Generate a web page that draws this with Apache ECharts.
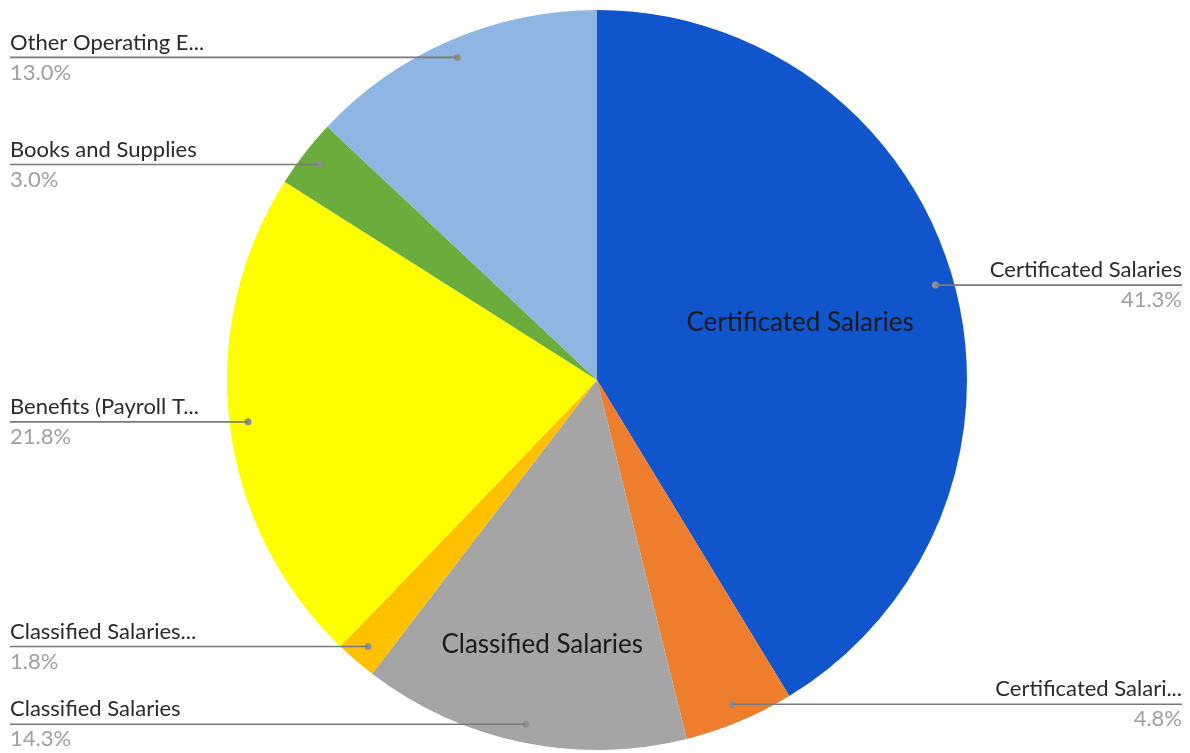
<!DOCTYPE html>
<html><head><meta charset="utf-8">
<script src="https://cdn.jsdelivr.net/npm/echarts@6/dist/echarts.min.js"></script>
<style>html,body{margin:0;padding:0;background:#fff}#c{width:1190px;height:753px}</style>
</head><body><div id="c"></div>
<script>
const categories = ['Certificated Salaries', 'Certificated Salari...', 'Classified Salaries', 'Classified Salaries...', 'Benefits (Payroll T...', 'Books and Supplies', 'Other Operating E...'];
const values = [41.3, 4.8, 14.3, 1.8, 21.8, 3.0, 13.0];
const colors = ['#1155CC', '#EE7D2E', '#A5A5A5', '#FFC000', '#FFFF00', '#6AAD3D', '#8DB6E2'];
const insideLabelItems = ['Certificated Salaries', 'Classified Salaries'];

const CX = 597, CY = 380, R = 370;
const FONT = 'Lato';
const total = values.reduce((a, b) => a + b, 0);
const midAngles = [];
{ let cum = 0; values.forEach(v => { midAngles.push((cum + v / 2) / total * 2 * Math.PI); cum += v; }); }
function pt(i, f) { const a = midAngles[i]; return [CX + f * R * Math.sin(a), CY - f * R * Math.cos(a)]; }
const insideFrac = { 'Certificated Salaries': 0.57, 'Classified Salaries': 0.73 };
const pieData = categories.map((n, i) => ({ name: n, value: values[i] }));
const base = { type: 'pie', center: [CX, CY], radius: [0, R], startAngle: 90, clockwise: true, avoidLabelOverlap: false };
const clear = { color: 'rgba(0,0,0,0)' };

const chart = echarts.init(document.getElementById('c'), null, { renderer: 'canvas' });
chart.setOption({
  animation: false,
  backgroundColor: '#ffffff',
  color: colors,
  series: [
    // coloured slices + anchor dots
    Object.assign({}, base, {
      z: 2,
      itemStyle: { borderWidth: 0 },
      data: pieData,
      label: {
        show: true, position: 'inside',
        formatter: '{d| }',
        rich: { d: { width: 7, height: 7, borderRadius: 3.5, backgroundColor: '#8f8f8f' } }
      },
      labelLine: { show: false },
      labelLayout: function (params) {
        const [x, y] = pt(params.dataIndex, 0.95);
        return { x: x, y: y, align: 'center', verticalAlign: 'middle' };
      }
    }),
    // names inside the two largest slices
    Object.assign({}, base, {
      silent: true, z: 3,
      itemStyle: clear,
      data: pieData,
      label: {
        show: true, position: 'inside',
        formatter: p => insideLabelItems.indexOf(p.name) >= 0 ? p.name : '',
        fontFamily: FONT, fontSize: 26, color: '#1a1a1a'
      },
      labelLine: { show: false },
      labelLayout: function (params) {
        const i = params.dataIndex;
        const f = insideFrac[categories[i]] || 0.5;
        const [x, y] = pt(i, f);
        return { x: x, y: y, align: 'center', verticalAlign: 'middle' };
      }
    }),
    // outside labels with leader lines
    Object.assign({}, base, {
      silent: true, z: 4,
      itemStyle: clear,
      data: pieData,
      label: {
        show: true, position: 'outside',
        formatter: p => '{n|' + p.name + '}\n{p|' + values[p.dataIndex].toFixed(1) + '%}',
        rich: {
          n: { fontFamily: FONT, fontSize: 22, color: '#2b2b2b', lineHeight: 30 },
          p: { fontFamily: FONT, fontSize: 22, color: '#a0a0a0', lineHeight: 30 }
        }
      },
      labelLine: { show: true, showAbove: true, lineStyle: { color: '#7a7a7a', width: 1.6 } },
      labelLayout: function (params) {
        const i = params.dataIndex;
        const [ax, ay] = pt(i, 0.95);
        const right = ax > CX;
        const ex = right ? 1182 : 10;
        return {
          x: ex, y: ay, align: right ? 'right' : 'left', verticalAlign: 'middle',
          labelLinePoints: [[ax, ay], [ax, ay], [ex, ay]]
        };
      }
    })
  ]
});
</script></body></html>
